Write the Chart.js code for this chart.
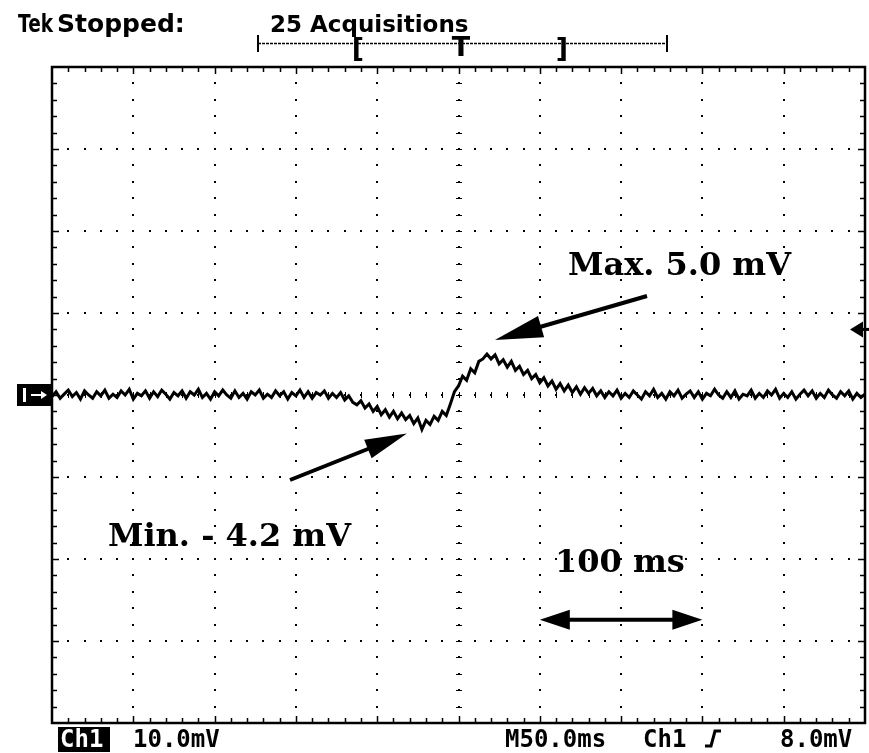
<!DOCTYPE html>
<html>
<head>
<meta charset="utf-8">
<title>Tek Ch1 capture</title>
<script src="https://cdn.jsdelivr.net/npm/chart.js@4.4.0/dist/chart.umd.min.js"></script>
<style>
  html, body { margin: 0; padding: 0; background: #fff; }
  canvas { display: block; }
</style>
</head>
<body>
<canvas id="scope" width="869" height="753"></canvas>
<script>
// ---- Acquisition settings -------------------------------------------------
const SAMPLE_STEP_MS = 2.5;          // time between stored samples
const TIME_PER_DIV_MS = 50;          // M50.0ms
const VOLTS_PER_DIV_MV = 10;         // Ch1 10.0mV
const X_DIVS = 10;
const Y_DIVS = 8;
const MINOR_PER_DIV = 5;
const TRIGGER_LEVEL_MV = 8.0;

// ---- Channel 1 record (mV), one value per sample -------------------------
const ch1Quiet1 = [
  -0.2, 0.4, -0.4, 0.1, 0.6, -0.2, 0.3, -0.5, 0.5, 0.0,
  -0.4, 0.4, -0.1, 0.6, -0.4, 0.1, -0.3, 0.5, 0.0, 0.7,
  -0.5, 0.2, -0.1, 0.5, -0.4, 0.4, -0.2, 0.6, 0.1, -0.5,
  0.3, -0.1, 0.5, -0.4, 0.4, 0.0, 0.7, -0.3, 0.2, -0.5,
  0.4, -0.1, 0.6, 0.0, -0.4, 0.5, -0.3, 0.2, -0.5, 0.4,
  0.0, 0.6, -0.4, 0.1, -0.3, 0.5, -0.1, 0.4, -0.5, 0.3,
  -0.1, 0.6, -0.3, 0.4, -0.4, 0.3, 0.0, 0.5, -0.4, 0.2,
  -0.3
];
const ch1Event = [
  0.3, -0.6, -0.1, -0.9, -1.2, -0.7, -1.6, -1.1, -2.0, -1.4,
  -2.4, -1.8, -2.7, -2.0, -2.9, -2.2, -3.0, -2.5, -3.5, -2.8,
  -4.2, -3.1, -3.6, -2.6, -3.1, -2.0, -2.5, -1.1, 0.4, 1.1,
  2.3, 1.8, 3.2, 2.7, 4.1, 4.4, 5.0, 4.4, 4.9, 3.8,
  4.3, 3.4, 4.1, 3.0, 3.5, 2.5, 3.0, 2.0, 2.5, 1.5,
  2.1, 1.1, 1.7, 0.7, 1.4, 0.5, 1.2, 0.3, 1.0, 0.1,
  0.9, 0.2, 0.8, -0.1, 0.5
];
const ch1Quiet2 = [
  -0.3, 0.4, -0.1, 0.6, -0.4, 0.2, -0.3, 0.5, 0.0, -0.5,
  0.4, -0.1, 0.7, -0.3, 0.2, -0.5, 0.4, -0.1, 0.6, -0.4,
  0.1, 0.5, -0.3, 0.4, -0.5, 0.2, -0.1, 0.7, 0.0, -0.4,
  0.4, -0.3, 0.5, -0.5, 0.1, -0.1, 0.6, -0.4, 0.2, -0.3,
  0.5, 0.0, 0.7, -0.4, 0.2, -0.3, 0.4, -0.5, 0.1, 0.6,
  -0.1, 0.5, -0.4, 0.2, -0.3, 0.6, 0.0, -0.4, 0.4, -0.1,
  0.5, -0.5, 0.2, -0.3, 0.1
];
const ch1Trace = [...ch1Quiet1, ...ch1Event, ...ch1Quiet2];

// ---- Readouts and annotation text ----------------------------------------
const peakMv = 5.0;
const troughMv = -4.2;
const spanMs = 100;
const headerLabels = ['Stopped:', '25 Acquisitions'];
const footerLabels = ['Ch1', '10.0mV', 'M50.0ms', 'Ch1', '8.0mV'];
const maxLabel = 'Max. ' + peakMv.toFixed(1) + ' mV';
const minLabel = 'Min. - ' + Math.abs(troughMv).toFixed(1) + ' mV';
const spanLabel = spanMs + ' ms';

const points = ch1Trace.map((v, i) => ({ x: i * SAMPLE_STEP_MS, y: v }));
const peakIndex = ch1Trace.indexOf(peakMv);
const troughIndex = ch1Trace.indexOf(troughMv);

function arrowHead(ctx, tx, ty, fx, fy, len, half) {
  const ang = Math.atan2(ty - fy, tx - fx);
  ctx.beginPath();
  ctx.moveTo(tx, ty);
  ctx.lineTo(tx - len * Math.cos(ang) + half * Math.sin(ang), ty - len * Math.sin(ang) - half * Math.cos(ang));
  ctx.lineTo(tx - len * Math.cos(ang) - half * Math.sin(ang), ty - len * Math.sin(ang) + half * Math.cos(ang));
  ctx.closePath();
  ctx.fill();
}

function arrow(ctx, fx, fy, tx, ty, len, half, width, both) {
  const ang = Math.atan2(ty - fy, tx - fx);
  ctx.lineWidth = width;
  ctx.beginPath();
  ctx.moveTo(both ? fx + (len - 4) * Math.cos(ang) : fx, both ? fy + (len - 4) * Math.sin(ang) : fy);
  ctx.lineTo(tx - (len - 4) * Math.cos(ang), ty - (len - 4) * Math.sin(ang));
  ctx.stroke();
  arrowHead(ctx, tx, ty, fx, fy, len, half);
  if (both) arrowHead(ctx, fx, fy, tx, ty, len, half);
}

// Graticule: dotted divisions, ticked centre lines and ticked frame
const graticule = {
  id: 'graticule',
  beforeDatasetsDraw(chart) {
    const { ctx, chartArea: a, scales: { x, y } } = chart;
    const yMin = y.min;
    const xStep = TIME_PER_DIV_MS / MINOR_PER_DIV;
    const yStep = VOLTS_PER_DIV_MV / MINOR_PER_DIV;
    ctx.save();
    ctx.fillStyle = '#000';
    ctx.strokeStyle = '#000';
    // dots along every interior vertical division line
    for (let i = 1; i < X_DIVS; i++) {
      const px = Math.round(x.getPixelForValue(i * TIME_PER_DIV_MS));
      for (let j = 1; j < Y_DIVS * MINOR_PER_DIV; j++) {
        const py = Math.round(y.getPixelForValue(yMin + j * yStep));
        ctx.fillRect(px - 1, py - 1, 2, 2);
      }
    }
    // dots along every interior horizontal division line
    for (let j = 1; j < Y_DIVS; j++) {
      const py = Math.round(y.getPixelForValue(yMin + j * VOLTS_PER_DIV_MV));
      for (let i = 1; i < X_DIVS * MINOR_PER_DIV; i++) {
        const px = Math.round(x.getPixelForValue(i * xStep));
        ctx.fillRect(px - 1, py - 1, 2, 2);
      }
    }
    // minor ticks on the centre lines
    const cx = Math.round(x.getPixelForValue(X_DIVS / 2 * TIME_PER_DIV_MS));
    const cy = Math.round(y.getPixelForValue(0));
    ctx.lineWidth = 1;
    ctx.beginPath();
    for (let j = 1; j < Y_DIVS * MINOR_PER_DIV; j++) {
      const py = Math.round(y.getPixelForValue(yMin + j * yStep)) + 0.5;
      ctx.moveTo(cx - 3, py); ctx.lineTo(cx + 3, py);
    }
    for (let i = 1; i < X_DIVS * MINOR_PER_DIV; i++) {
      const px = Math.round(x.getPixelForValue(i * xStep)) + 0.5;
      ctx.moveTo(px, cy - 3); ctx.lineTo(px, cy + 3);
    }
    ctx.stroke();
    // frame ticks
    ctx.lineWidth = 1.5;
    ctx.beginPath();
    for (let i = 1; i < X_DIVS * MINOR_PER_DIV; i++) {
      const px = Math.round(x.getPixelForValue(i * xStep)) + 0.5;
      const major = i % MINOR_PER_DIV === 0 ? 7 : 5;
      ctx.moveTo(px, a.top); ctx.lineTo(px, a.top + major);
      ctx.moveTo(px, a.bottom); ctx.lineTo(px, a.bottom - major);
    }
    for (let j = 1; j < Y_DIVS * MINOR_PER_DIV; j++) {
      const py = Math.round(y.getPixelForValue(yMin + j * yStep)) + 0.5;
      const major = j % MINOR_PER_DIV === 0 ? 7 : 5;
      ctx.moveTo(a.left, py); ctx.lineTo(a.left + major, py);
      ctx.moveTo(a.right, py); ctx.lineTo(a.right - major, py);
    }
    ctx.stroke();
    // frame
    ctx.lineWidth = 2.5;
    ctx.strokeRect(a.left, a.top, a.right - a.left, a.bottom - a.top);
    ctx.restore();
  },
  afterDraw(chart) {
    const { ctx, chartArea: a, scales: { x, y } } = chart;
    ctx.save();
    ctx.fillStyle = '#000';
    ctx.strokeStyle = '#000';
    ctx.textBaseline = 'alphabetic';

    // header: status and record bar
    ctx.save();
    ctx.font = 'bold 25px "DejaVu Sans"';
    ctx.translate(18, 32);
    ctx.scale(0.74, 1);
    ctx.fillText('Tek', 0, 0);
    ctx.restore();
    ctx.font = 'bold 25px "DejaVu Sans"';
    ctx.fillText(headerLabels[0], 57, 32);
    ctx.font = 'bold 23px "DejaVu Sans"';
    ctx.fillText(headerLabels[1], 270, 32);

    ctx.lineWidth = 1.5;
    ctx.setLineDash([3, 1]);
    ctx.beginPath();
    ctx.moveTo(258, 43.5); ctx.lineTo(667, 43.5);
    ctx.stroke();
    ctx.setLineDash([]);
    ctx.lineWidth = 2;
    ctx.beginPath();
    ctx.moveTo(258, 35); ctx.lineTo(258, 52);
    ctx.moveTo(667, 35); ctx.lineTo(667, 52);
    ctx.stroke();
    ctx.font = 'bold 27px "DejaVu Sans"';
    ctx.textAlign = 'center';
    ctx.fillText('[', 358, 57);
    ctx.fillText('T', 461, 56);
    ctx.fillText(']', 562, 57);
    ctx.textAlign = 'left';

    // footer readouts
    ctx.font = 'bold 24px "DejaVu Sans Mono"';
    ctx.fillRect(58, 727, 52, 25);
    ctx.fillStyle = '#fff';
    ctx.fillText(footerLabels[0], 60, 747);
    ctx.fillStyle = '#000';
    ctx.fillText(footerLabels[1], 133, 747);
    ctx.fillText(footerLabels[2], 505, 747);
    ctx.fillText(footerLabels[3], 643, 747);
    // rising-edge trigger slope symbol
    ctx.lineWidth = 3;
    ctx.beginPath();
    ctx.moveTo(705, 746); ctx.lineTo(711, 746);
    ctx.lineTo(715, 731); ctx.lineTo(721, 731);
    ctx.stroke();
    ctx.fillText(footerLabels[4], 780, 747);

    // ground reference marker for Ch1
    const gy = y.getPixelForValue(0);
    ctx.fillRect(17, gy - 11, 34, 22);
    ctx.fillStyle = '#fff';
    ctx.fillRect(23, gy - 7, 3, 14);
    ctx.strokeStyle = '#fff';
    ctx.lineWidth = 2;
    ctx.beginPath();
    ctx.moveTo(31, gy); ctx.lineTo(44, gy);
    ctx.stroke();
    arrowHead(ctx, 47, gy, 31, gy, 6, 4);
    ctx.fillStyle = '#000';
    ctx.strokeStyle = '#000';

    // trigger level marker at the right edge
    const ty = y.getPixelForValue(TRIGGER_LEVEL_MV);
    arrowHead(ctx, 850, ty, 869, ty, 13, 8);
    ctx.lineWidth = 3;
    ctx.beginPath();
    ctx.moveTo(860, ty); ctx.lineTo(869, ty);
    ctx.stroke();

    // peak / trough call-outs
    const peakX = x.getPixelForValue(peakIndex * SAMPLE_STEP_MS);
    const peakY = y.getPixelForValue(peakMv);
    const trX = x.getPixelForValue(troughIndex * SAMPLE_STEP_MS);
    const trY = y.getPixelForValue(troughMv);
    ctx.fillStyle = '#000';
    arrow(ctx, 647, 296, peakX + 8, peakY - 14, 48, 11, 4, false);
    arrow(ctx, 290, 480, trX - 15, trY + 4, 42, 10, 4, false);

    ctx.font = 'bold 32px "DejaVu Serif"';
    ctx.fillText(maxLabel, 568, 275);
    ctx.fillText(minLabel, 108, 546);
    ctx.fillText(spanLabel, 555, 572);

    // 100 ms span marker, drawn from the time scale
    const sx0 = x.getPixelForValue(300);
    const sx1 = x.getPixelForValue(300 + spanMs);
    const sy = y.getPixelForValue(-27.4);
    arrow(ctx, sx0, sy, sx1, sy, 30, 10, 4, true);
    ctx.restore();
  }
};

new Chart(document.getElementById('scope'), {
  type: 'line',
  data: {
    datasets: [{
      data: points,
      borderColor: '#000',
      borderWidth: 3,
      pointRadius: 0,
      tension: 0,
      fill: false
    }]
  },
  options: {
    responsive: false,
    animation: false,
    events: [],
    layout: { padding: { left: 52, top: 67, right: 4, bottom: 30 } },
    plugins: { legend: { display: false }, tooltip: { enabled: false } },
    scales: {
      x: { type: 'linear', min: 0, max: X_DIVS * TIME_PER_DIV_MS, display: false },
      y: { type: 'linear', min: -Y_DIVS / 2 * VOLTS_PER_DIV_MV, max: Y_DIVS / 2 * VOLTS_PER_DIV_MV, display: false }
    }
  },
  plugins: [graticule]
});
</script>
</body>
</html>
